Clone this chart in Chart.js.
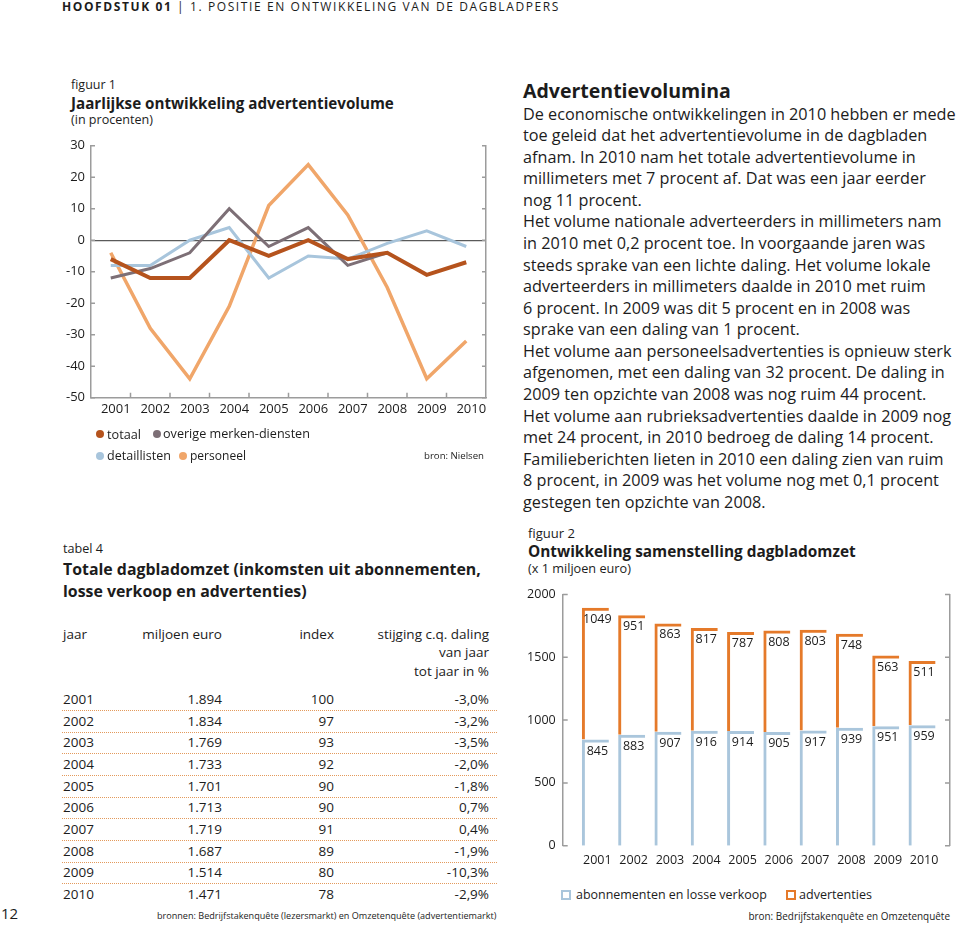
<!DOCTYPE html>
<html lang="nl">
<head>
<meta charset="utf-8">
<title>Dagbladomzet</title>
<script src="https://cdn.jsdelivr.net/npm/chart.js@4.4.0/dist/chart.umd.min.js"></script>
<style>
html,body{margin:0;padding:0;background:#fff;}
body{width:960px;height:925px;position:relative;overflow:hidden;font-family:"Open Sans",sans-serif;color:#1c1c1c;}
.t{position:absolute;white-space:nowrap;display:inline-block;}
.b{font-weight:700;}
.dot{position:absolute;width:8px;height:8px;border-radius:50%;}
.sq{position:absolute;width:6px;height:6px;border:2px solid;}
.cbox{position:absolute;}
.dl{position:absolute;height:0;border-top:1px dotted #e39a5c;}
</style>
</head>
<body>

<!-- page header -->
<div class="t" id="hdr" data-ls="498" style="left:62px;top:0px;font-size:12px;line-height:14px;letter-spacing:0px;"><span class="b">HOOFDSTUK 01</span> | 1. POSITIE EN ONTWIKKELING VAN DE DAGBLADPERS</div>
<div class="t" style="left:1px;top:904px;font-size:15px;line-height:18px;">12</div>

<!-- figuur 1 -->
<div class="t" data-w="45" style="left:71px;top:76px;font-size:14px;line-height:17px;">figuur 1</div>
<div class="t b" data-w="323" style="left:71px;top:93px;font-size:16px;line-height:20px;">Jaarlijkse ontwikkeling advertentievolume</div>
<div class="t" data-w="82" style="left:71px;top:112px;font-size:13px;line-height:16px;">(in procenten)</div>
<div class="cbox" style="left:30px;top:130px;width:470px;height:300px;"><canvas id="c1"></canvas></div>

<div class="dot" style="left:96px;top:430px;background:#b5531d;"></div>
<div class="t" data-w="34" style="left:107px;top:426px;font-size:13px;line-height:16px;">totaal</div>
<div class="dot" style="left:153px;top:430px;background:#7d6f76;"></div>
<div class="t" data-w="147" style="left:163px;top:426px;font-size:13px;line-height:16px;">overige merken-diensten</div>
<div class="dot" style="left:96px;top:452px;background:#a8c5dc;"></div>
<div class="t" data-w="64" style="left:107px;top:448px;font-size:13px;line-height:16px;">detaillisten</div>
<div class="dot" style="left:179px;top:452px;background:#f0a66a;"></div>
<div class="t" data-w="56" style="left:190px;top:448px;font-size:13px;line-height:16px;">personeel</div>
<div class="t" data-w="60" style="right:476px;top:449px;font-size:11px;line-height:14px;">bron: Nielsen</div>

<!-- tabel 4 -->
<div class="t" data-w="40" style="left:63px;top:540px;font-size:14px;line-height:17px;">tabel 4</div>
<div class="t b" data-w="418" style="left:63px;top:558px;font-size:16px;line-height:22px;">Totale dagbladomzet (inkomsten uit abonnementen,<br>losse verkoop en advertenties)</div>
<div id="tbl"></div>
<div class="t" data-w="340" style="left:157px;top:909px;font-size:10.5px;line-height:14px;">bronnen: Bedrijfstakenquête (lezersmarkt) en Omzetenquête (advertentiemarkt)</div>

<!-- tekst rechts -->
<div class="t b" data-w="208" style="left:523px;top:80px;font-size:18px;line-height:22px;">Advertentievolumina</div>
<div class="t" data-w="433" style="left:523px;top:103.5px;font-size:15px;line-height:21.58px;">De economische ontwikkelingen in 2010 hebben er mede<br>toe geleid dat het advertentievolume in de dagbladen<br>afnam. In 2010 nam het totale advertentievolume in<br>millimeters met 7 procent af. Dat was een jaar eerder<br>nog 11 procent.<br>Het volume nationale adverteerders in millimeters nam<br>in 2010 met 0,2 procent toe. In voorgaande jaren was<br>steeds sprake van een lichte daling. Het volume lokale<br>adverteerders in millimeters daalde in 2010 met ruim<br>6 procent. In 2009 was dit 5 procent en in 2008 was<br>sprake van een daling van 1 procent.<br>Het volume aan personeelsadvertenties is opnieuw sterk<br>afgenomen, met een daling van 32 procent. De daling in<br>2009 ten opzichte van 2008 was nog ruim 44 procent.<br>Het volume aan rubrieksadvertenties daalde in 2009 nog<br>met 24 procent, in 2010 bedroeg de daling 14 procent.<br>Familieberichten lieten in 2010 een daling zien van ruim<br>8 procent, in 2009 was het volume nog met 0,1 procent<br>gestegen ten opzichte van 2008.</div>

<!-- figuur 2 -->
<div class="t" data-w="47" style="left:528px;top:524.5px;font-size:14px;line-height:17px;">figuur 2</div>
<div class="t b" data-w="328" style="left:528px;top:542px;font-size:16px;line-height:20px;">Ontwikkeling samenstelling dagbladomzet</div>
<div class="t" data-w="103" style="left:528px;top:560px;font-size:13px;line-height:16px;">(x 1 miljoen euro)</div>
<div class="cbox" style="left:500px;top:580px;width:460px;height:300px;"><canvas id="c2"></canvas></div>
<div class="sq" style="left:561px;top:890px;border-color:#aac6dc;"></div>
<div class="t" data-w="191" style="left:576px;top:887px;font-size:13.5px;line-height:16px;">abonnementen en losse verkoop</div>
<div class="sq" style="left:786px;top:890px;border-color:#e57a2a;"></div>
<div class="t" data-w="73" style="left:799px;top:887px;font-size:13.5px;line-height:16px;">advertenties</div>
<div class="t" data-w="202" style="right:10px;top:909px;font-size:10.5px;line-height:14px;">bron: Bedrijfstakenquête en Omzetenquête</div>

<script>
// ---------- data ----------
const years = ['2001','2002','2003','2004','2005','2006','2007','2008','2009','2010'];
const yearNums = [2001,2002,2003,2004,2005,2006,2007,2008,2009,2010];

// figuur 1 (in procenten)
const totaal       = [-6, -12, -12, 0, -5, 0, -6, -4, -11, -7];
const overige      = [-12, -9, -4, 10, -2, 4, -8, -4, null, null];
const detaillisten = [-8, -8, 0, 4, -12, -5, -6, -1, 3, -2];
const personeel    = [-4, -28, -44, -21, 11, 24, 8, -15, -44, -32];

// figuur 2 (x 1 miljoen euro)
const abonnementen = [845, 883, 907, 916, 914, 905, 917, 939, 951, 959];
const advertenties = [1049, 951, 863, 817, 787, 808, 803, 748, 563, 511];

// tabel 4
const omzet   = ['1.894','1.834','1.769','1.733','1.701','1.713','1.719','1.687','1.514','1.471'];
const indexen = ['100','97','93','92','90','90','91','89','80','78'];
const mutatie = ['-3,0%','-3,2%','-3,5%','-2,0%','-1,8%','0,7%','0,4%','-1,9%','-10,3%','-2,9%'];

// ---------- table ----------
(function(){
  const tbl = document.getElementById('tbl');
  const mk = (txt, style) => { const d=document.createElement('div'); d.className='t'; d.textContent=txt; d.style.cssText=style; tbl.appendChild(d); return d; };
  const fs = 'font-size:13.5px;line-height:18px;';
  mk('jaar', fs+'left:63px;top:625px;');
  mk('miljoen euro', fs+'right:738px;top:625px;');
  mk('index', fs+'right:626px;top:625px;');
  mk('stijging c.q. daling', fs+'right:471px;top:625px;');
  mk('van jaar', fs+'right:471px;top:643px;');
  mk('tot jaar in %', fs+'right:471px;top:662px;');
  years.forEach((y,i)=>{
    const cy = 699 + i*21.65;
    const top = (cy-9)+'px;';
    mk(y, fs+'left:63px;top:'+top);
    mk(omzet[i], fs+'right:738px;top:'+top);
    mk(indexen[i], fs+'right:626px;top:'+top);
    mk(mutatie[i], fs+'right:471px;top:'+top);
    if (i < years.length-1) {
      const l=document.createElement('div'); l.className='dl';
      l.style.cssText='left:62px;width:435px;top:'+(cy+11)+'px;';
      tbl.appendChild(l);
    }
  });
})();

// ---------- text fitting ----------
document.querySelectorAll('[data-w]').forEach(el=>{
  const target = +el.dataset.w;
  const fsz = parseFloat(getComputedStyle(el).fontSize);
  const w = el.getBoundingClientRect().width;
  if (w>0) el.style.fontSize = (fsz*target/w)+'px';
});
document.querySelectorAll('[data-ls]').forEach(el=>{
  const target = +el.dataset.ls;
  const w = el.getBoundingClientRect().width;
  const n = el.textContent.length;
  el.style.letterSpacing = ((target-w)/n)+'px';
});

// ---------- charts ----------
Chart.defaults.font.family = '"Open Sans", sans-serif';
Chart.defaults.color = '#1c1c1c';
const AX = '#9c9c9c';

const innerTicks = {
  id: 'innerTicks',
  afterDraw(chart, args, opts) {
    const {ctx, chartArea: a, scales} = chart;
    const y = scales.y;
    ctx.save();
    ctx.strokeStyle = AX;
    ctx.lineWidth = 1.5;
    ctx.beginPath();
    y.ticks.forEach(t => {
      const py = y.getPixelForValue(t.value);
      ctx.moveTo(a.left, py); ctx.lineTo(a.left + opts.len, py);
      ctx.moveTo(a.right - opts.len, py); ctx.lineTo(a.right, py);
    });
    if (opts.xEdges) {
      const x = scales.x;
      for (let i = 1; i < x.ticks.length; i++) {
        const px = (x.getPixelForTick(i-1) + x.getPixelForTick(i)) / 2;
        ctx.moveTo(px, a.bottom); ctx.lineTo(px, a.bottom - 5);
      }
    }
    ctx.stroke();
    ctx.restore();
  }
};

const tickFont = {size: 12.5};

new Chart(document.getElementById('c1'), {
  type: 'line',
  data: {
    labels: years,
    datasets: [
      {label:'totaal', data: totaal, borderColor:'#b5531d', borderWidth:4},
      {label:'overige merken-diensten', data: overige, borderColor:'#7d6f76', borderWidth:3},
      {label:'detaillisten', data: detaillisten, borderColor:'#a8c5dc', borderWidth:3},
      {label:'personeel', data: personeel, borderColor:'#f0a66a', borderWidth:3.5}
    ]
  },
  options: {
    responsive: true, maintainAspectRatio: false, animation: false,
    layout: {padding: {top: 15.7, right: 14, left: 0, bottom: 0}},
    elements: {point: {radius: 0, hoverRadius: 0}, line: {tension: 0, borderJoinStyle: 'miter', fill: false}},
    plugins: {legend: {display: false}, tooltip: {enabled: false}, innerTicks: {len: 4, xEdges: true}},
    scales: {
      x: {
        offset: true,
        grid: {display: false, drawTicks: false, tickLength: 0},
        border: {display: true, color: AX, width: 1.5},
        ticks: {font: {size: 13}, color: '#1c1c1c', padding: 4, labelOffset: 5, maxRotation: 0, autoSkip: false},
        afterFit: s => { s.height = 32.3; }
      },
      y: {
        min: -50, max: 30,
        ticks: {stepSize: 10, font: {size: 13}, color: '#1c1c1c', padding: 6},
        grid: {color: c => (c.tick && c.tick.value === 0) ? '#5a5a5a' : 'rgba(0,0,0,0)', lineWidth: 1.2, drawTicks: false},
        border: {display: true, color: AX, width: 1.5},
        afterFit: s => { s.width = 61; }
      },
      y2: {
        position: 'right', min: -50, max: 30,
        ticks: {display: false},
        grid: {display: false, drawTicks: false},
        border: {display: true, color: AX, width: 1.5},
        afterFit: s => { s.width = 0; }
      }
    }
  },
  plugins: [innerTicks]
});

const barLabels = {
  id: 'barLabels',
  afterDatasetsDraw(chart) {
    const ctx = chart.ctx;
    const vals = [abonnementen, advertenties];
    ctx.save();
    ctx.font = '12.5px "Open Sans", sans-serif';
    ctx.fillStyle = '#1c1c1c';
    ctx.textAlign = 'center';
    ctx.textBaseline = 'middle';
    chart.data.datasets.forEach((ds, di) => {
      chart.getDatasetMeta(di).data.forEach((bar, i) => {
        ctx.fillText(String(vals[di][i]), bar.x + 2, bar.y + 11.5);
      });
    });
    ctx.restore();
  }
};

new Chart(document.getElementById('c2'), {
  type: 'bar',
  data: {
    datasets: [
      {label:'abonnementen en losse verkoop', data: yearNums.map((y,i)=>({x:y, y:abonnementen[i]})),
       backgroundColor:'rgba(0,0,0,0)', borderColor:'#aac6dc', borderWidth:{left:3, top:3, right:0, bottom:0}, borderSkipped:false, barThickness:27, inflateAmount:0},
      {label:'advertenties', data: yearNums.map((y,i)=>({x:y, y:advertenties[i]})),
       backgroundColor:'rgba(0,0,0,0)', borderColor:'#e57a2a', borderWidth:{left:3, top:3, right:0, bottom:0}, borderSkipped:false, barThickness:27, inflateAmount:0}
    ]
  },
  options: {
    responsive: true, maintainAspectRatio: false, animation: false,
    layout: {padding: {top: 14.3, right: 10, left: 0, bottom: 0}},
    plugins: {legend: {display: false}, tooltip: {enabled: false}, innerTicks: {len: 5, xEdges: false}},
    scales: {
      x: {
        type: 'linear', min: 2000.1, max: 2010.77, stacked: true, offset: false,
        grid: {display: false, drawTicks: false, tickLength: 0},
        border: {display: false},
        ticks: {font: tickFont, color: '#1c1c1c', padding: 7, labelOffset: 2, maxRotation: 0, autoSkip: false, callback: v => String(v)},
        afterBuildTicks: s => { s.ticks = yearNums.map(v => ({value: v})); },
        afterFit: s => { s.height = 34.3; }
      },
      y: {
        min: 0, max: 2000, stacked: true,
        ticks: {stepSize: 500, font: tickFont, color: '#1c1c1c', padding: 7, callback: v => String(v)},
        grid: {display: false, drawTicks: false},
        border: {display: true, color: AX, width: 1.5},
        afterFit: s => { s.width = 62.7; }
      },
      y2: {
        position: 'right', min: 0, max: 2000,
        ticks: {display: false},
        grid: {display: false, drawTicks: false},
        border: {display: true, color: AX, width: 1.5},
        afterFit: s => { s.width = 0; }
      }
    }
  },
  plugins: [innerTicks, barLabels]
});
</script>
</body>
</html>
